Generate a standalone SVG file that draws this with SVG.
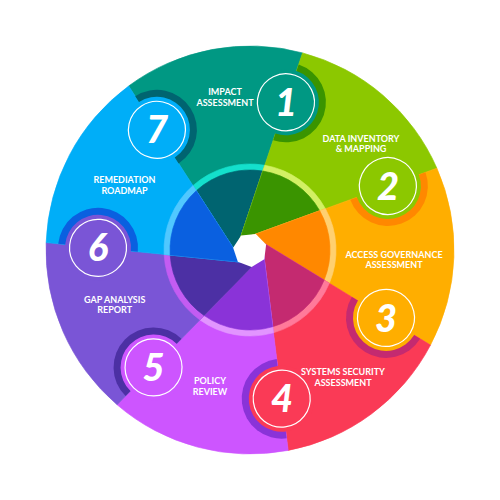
<svg xmlns="http://www.w3.org/2000/svg" xmlns:xlink="http://www.w3.org/1999/xlink" width="500" height="500" viewBox="0 0 500 500">
  <style>
    .lbl { font-family: Lato, "Liberation Sans", sans-serif; font-weight: 700; font-size: 9px; fill: #ffffff; text-anchor: middle; }
    .num { font-family: Lato, "Liberation Sans", sans-serif; font-weight: 900; font-style: italic; font-size: 38px; fill: #ffffff; text-anchor: middle; }
    .wl { fill: none; stroke: #ffffff; stroke-width: 1.2; }
  </style>
  <defs>
    <path id="seg" d="M237,243.74 L237,46.41 A204,204 0 0 1 401.06,112.90 Z" stroke-width="0.6"/>
    <path id="ringw" d="M237,243.74 L237,164.99 A86,86 0 0 1 308.36,186.83 Z" stroke-width="0.6"/>
    <path id="inner" d="M237,243.74 L237,171.06 A80,80 0 0 1 303.61,190.62 Z" stroke-width="0.6"/>
    <path id="shadow" d="M237,58.56 A40,40 0 0 1 237,138.56 Z"/>
  </defs>

  <g id="wheel">
    <g transform="rotate(-32.85 250 250)"><use xlink:href="#seg" fill="#009883" stroke="#009883"/><use xlink:href="#ringw" fill="#14e0cc" stroke="#14e0cc"/><use xlink:href="#inner" fill="#006470" stroke="#006470"/></g>
    <g transform="rotate(18.58 250 250)"><use xlink:href="#seg" fill="#8cc800" stroke="#8cc800"/><use xlink:href="#ringw" fill="#d2f064" stroke="#d2f064"/><use xlink:href="#inner" fill="#3a9400" stroke="#3a9400"/></g>
    <g transform="rotate(70.01 250 250)"><use xlink:href="#seg" fill="#ffae00" stroke="#ffae00"/><use xlink:href="#ringw" fill="#ffd070" stroke="#ffd070"/><use xlink:href="#inner" fill="#ff8800" stroke="#ff8800"/></g>
    <g transform="rotate(121.44 250 250)"><use xlink:href="#seg" fill="#fa3a56" stroke="#fa3a56"/><use xlink:href="#ringw" fill="#ff7a9a" stroke="#ff7a9a"/><use xlink:href="#inner" fill="#c42a70" stroke="#c42a70"/></g>
    <g transform="rotate(172.87 250 250)"><use xlink:href="#seg" fill="#cd55ff" stroke="#cd55ff"/><use xlink:href="#ringw" fill="#e295ff" stroke="#e295ff"/><use xlink:href="#inner" fill="#8a33d8" stroke="#8a33d8"/></g>
    <g transform="rotate(224.30 250 250)"><use xlink:href="#seg" fill="#7a55d6" stroke="#7a55d6"/><use xlink:href="#ringw" fill="#c35cf2" stroke="#c35cf2"/><use xlink:href="#inner" fill="#4c30a4" stroke="#4c30a4"/></g>
    <g transform="rotate(275.73 250 250)"><use xlink:href="#seg" fill="#00aef8" stroke="#00aef8"/><use xlink:href="#ringw" fill="#50c8ff" stroke="#50c8ff"/><use xlink:href="#inner" fill="#0a60e0" stroke="#0a60e0"/></g>
    <polygon points="233.14,247.85 241.16,235.48 255.84,234.04 266.12,244.62 264.26,259.25 251.66,266.92 237.81,261.85" fill="#ffffff"/>
  </g>

  <g id="step-1">
    <g transform="rotate(18.58 250 250)"><use xlink:href="#shadow" fill="#3a9400"/><circle cx="237" cy="98.56" r="33" fill="#009883"/><circle cx="237" cy="98.56" r="28.5" class="wl"/></g>
    <text class="num" x="286" y="115.5">1</text>
    <text class="lbl" x="225" y="95">IMPACT</text>
    <text class="lbl" x="225" y="105.5">ASSESSMENT</text>
  </g>
  <g id="step-2">
    <g transform="rotate(70.01 250 250)"><use xlink:href="#shadow" fill="#ff8800"/><circle cx="237" cy="98.56" r="33" fill="#8cc800"/><circle cx="237" cy="98.56" r="28.5" class="wl"/></g>
    <text class="num" x="388" y="199.5">2</text>
    <text class="lbl" x="361" y="141.7">DATA INVENTORY</text>
    <text class="lbl" x="361" y="152.2">&amp; MAPPING</text>
  </g>
  <g id="step-3">
    <g transform="rotate(121.44 250 250)"><use xlink:href="#shadow" fill="#c42a70"/><circle cx="237" cy="98.56" r="33" fill="#ffae00"/><circle cx="237" cy="98.56" r="28.5" class="wl"/></g>
    <text class="num" x="386" y="331.5">3</text>
    <text class="lbl" x="394" y="257.5">ACCESS GOVERNANCE</text>
    <text class="lbl" x="394" y="268">ASSESSMENT</text>
  </g>
  <g id="step-4">
    <g transform="rotate(172.87 250 250)"><use xlink:href="#shadow" fill="#8a33d8"/><circle cx="237" cy="98.56" r="33" fill="#fa3a56"/><circle cx="237" cy="98.56" r="28.5" class="wl"/></g>
    <text class="num" x="282" y="412">4</text>
    <text class="lbl" x="343" y="375">SYSTEMS SECURITY</text>
    <text class="lbl" x="343" y="385.5">ASSESSMENT</text>
  </g>
  <g id="step-5">
    <g transform="rotate(224.30 250 250)"><use xlink:href="#shadow" fill="#4c30a4"/><circle cx="237" cy="98.56" r="33" fill="#cd55ff"/><circle cx="237" cy="98.56" r="28.5" class="wl"/></g>
    <text class="num" x="153.5" y="381">5</text>
    <text class="lbl" x="210" y="384.3">POLICY</text>
    <text class="lbl" x="210" y="395">REVIEW</text>
  </g>
  <g id="step-6">
    <g transform="rotate(275.73 250 250)"><use xlink:href="#shadow" fill="#0a60e0"/><circle cx="237" cy="98.56" r="33" fill="#7a55d6"/><circle cx="237" cy="98.56" r="28.5" class="wl"/></g>
    <text class="num" x="98" y="261">6</text>
    <text class="lbl" x="114.7" y="302.7">GAP ANALYSIS</text>
    <text class="lbl" x="114.7" y="313.3">REPORT</text>
  </g>
  <g id="step-7">
    <g transform="rotate(-32.85 250 250)"><use xlink:href="#shadow" fill="#006470"/><circle cx="237" cy="98.56" r="33" fill="#00aef8"/><circle cx="237" cy="98.56" r="28.5" class="wl"/></g>
    <text class="num" x="157" y="143">7</text>
    <text class="lbl" x="124.5" y="183.3">REMEDIATION</text>
    <text class="lbl" x="124.5" y="194">ROADMAP</text>
  </g>
</svg>
